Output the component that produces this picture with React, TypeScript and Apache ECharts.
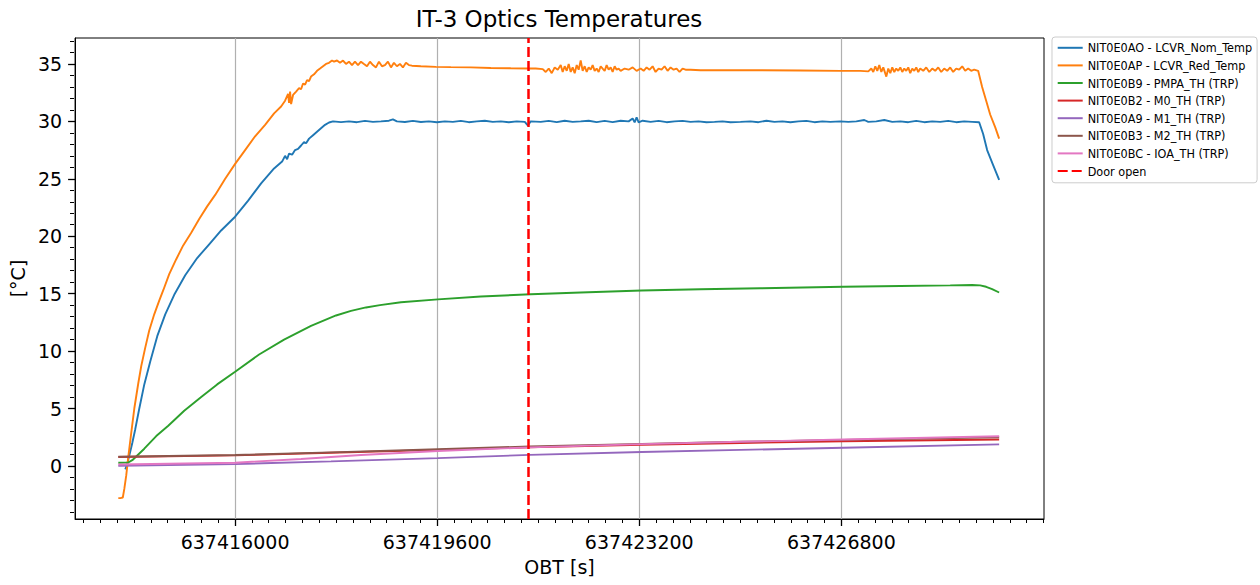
import React, { useEffect, useRef } from "react";
import * as echarts from "echarts";

// ---------- data ----------
const START_OBT = 637413920; // first sample (OBT seconds)
const DOOR_OPEN_OBT = 637421230;

const X_MIN = 637413150;
const X_MAX = 637430410;
const Y_MIN = -4.62;
const Y_MAX = 37.26;

const xMajorTicks = [637416000, 637419600, 637423200, 637426800];
const yMajorTicks = [0, 5, 10, 15, 20, 25, 30, 35];
const X_MINOR_FIRST = 637413300;
const X_MINOR_STEP = 300;
const Y_MINOR_FIRST = -4;
const Y_MINOR_LAST = 37;

const seriesNames = [
  "NIT0E0AO - LCVR_Nom_Temp",
  "NIT0E0AP - LCVR_Red_Temp",
  "NIT0E0B9 - PMPA_TH (TRP)",
  "NIT0E0B2 - M0_TH (TRP)",
  "NIT0E0A9 - M1_TH (TRP)",
  "NIT0E0B3 - M2_TH (TRP)",
  "NIT0E0BC - IOA_TH (TRP)",
  "Door open",
];
const colors = ["#1f77b4", "#ff7f0e", "#2ca02c", "#d62728", "#9467bd", "#8c564b", "#e377c2", "#ff0000"];

// LCVR_Nom_Temp (offset seconds from START_OBT, values °C)
const nomT = [
  125, 160, 196, 249, 302, 374, 463, 569, 694, 836,
  996, 1192, 1405, 1619, 1832, 2081, 2313, 2544, 2775, 2918,
  2971, 3007, 3042, 3096, 3149, 3202, 3256, 3309, 3345, 3398,
  3469, 3540, 3611, 3683, 3754, 3825,
  3967, 4109, 4252, 4394, 4536, 4679, 4821, 4892, 4963, 5106,
  5248, 5390, 5533, 5675, 5817, 5960, 6102, 6244, 6387, 6529,
  6671, 6814, 6956, 7098, 7241, 7294, 7347, 7525, 7667, 7810,
  7952, 8094, 8237, 8379, 8521, 8664, 8806, 8949, 9091, 9162,
  9198, 9233, 9269, 9340, 9482, 9625, 9767, 9909, 10052, 10194,
  10336, 10478, 10621, 10763, 10905, 11083, 11261, 11403, 11546, 11688,
  11830, 11973, 12115, 12257, 12400, 12542, 12684, 12862, 13004, 13147,
  13289, 13360, 13502, 13645, 13787, 13930, 14072, 14214, 14357, 14499,
  14641, 14783, 14926, 15068, 15211, 15335,
  15406, 15477, 15584, 15691,
];
const nomV = [
  -0.3, 0.2, 0.9, 2.0, 3.2, 5.0, 7.1, 9.1, 11.3, 13.2,
  14.9, 16.6, 18.1, 19.3, 20.5, 21.7, 23.1, 24.6, 25.9, 26.5,
  27.0, 26.7, 27.2, 27.1, 27.5, 27.6, 27.9, 28.2, 28.1, 28.5,
  28.8, 29.1, 29.4, 29.7, 29.9, 30.0,
  29.94, 30.0, 29.93, 30.04, 29.96, 30.0, 30.06, 30.18, 30.0, 29.95,
  30.04, 29.95, 30.0, 29.93, 30.0, 29.96, 30.04, 29.93, 30.0, 30.06,
  29.96, 30.0, 29.93, 30.0, 29.96, 29.65, 30.0, 29.96, 30.04, 29.93,
  30.06, 29.96, 30.0, 30.06, 29.93, 30.04, 29.93, 30.06, 30.0, 30.25,
  29.92, 30.35, 29.92, 30.06, 29.96, 30.04, 29.93, 30.0, 30.04, 29.96,
  30.0, 29.93, 29.96, 30.0, 29.93, 29.96, 30.0, 29.93, 30.06, 29.96,
  30.0, 29.93, 30.0, 30.04, 29.93, 30.0, 29.96, 30.0, 29.96, 30.0,
  30.12, 29.96, 30.0, 30.12, 29.96, 30.0, 29.93, 30.04, 29.93, 30.0,
  29.96, 30.04, 29.93, 30.0, 29.96, 29.92,
  28.9, 27.5, 26.2, 24.9,
];

// LCVR_Red_Temp
const redT = [
  0, 36, 80, 107, 142, 178, 231, 285, 356, 409,
  480, 551, 640, 729, 801, 907, 1032, 1156, 1299, 1441,
  1583, 1726, 1904, 2081, 2259, 2437, 2615, 2775, 2900, 2971,
  3024, 3042, 3060, 3078, 3113, 3167, 3220, 3256, 3291, 3327,
  3362, 3398, 3433, 3487, 3540, 3594, 3647, 3700, 3754, 3807,
  3843,
  3896, 3949, 4003, 4056, 4109, 4163, 4216, 4270, 4323, 4376,
  4430, 4483, 4536, 4590, 4643, 4697, 4750, 4803, 4857, 4910,
  4963, 5017, 5070, 5124, 5177, 5230,
  5390, 5657, 5924, 6280, 6636, 6991, 7312, 7436, 7561,
  7614, 7667, 7721, 7774, 7828, 7881,
  7916, 7952, 7988, 8023, 8059, 8094, 8130, 8166, 8201, 8237,
  8272, 8308, 8344, 8379, 8415, 8450, 8486, 8521, 8557, 8593,
  8628, 8664, 8699, 8735, 8771, 8806, 8842, 8877, 8913, 8949,
  9020, 9091, 9162, 9233, 9304,
  9358, 9411, 9464, 9518, 9571, 9625, 9678, 9731, 9785, 9838,
  9892, 9945, 9998, 10052, 10105,
  10194, 10372, 10727, 11439, 12150, 12862, 13218, 13360,
  13414, 13449, 13485, 13520, 13556, 13592, 13627,
  13681,
  13716, 13752, 13787, 13823, 13858, 13894, 13930, 13965, 14001, 14036,
  14072, 14107, 14143, 14179, 14214, 14250, 14285,
  14339, 14392, 14446, 14499, 14552, 14606, 14659, 14712, 14766, 14819,
  14872, 14926, 14979, 15033, 15086, 15139, 15193, 15246,
  15317,
  15388, 15460, 15531, 15620, 15691,
];
const redV = [
  -2.8, -2.8, -2.75, -2.0, -0.8, 0.8, 2.9, 5.0, 7.2, 8.7,
  10.3, 11.8, 13.2, 14.4, 15.3, 16.7, 18.0, 19.2, 20.3, 21.5,
  22.6, 23.6, 25.0, 26.3, 27.5, 28.7, 29.7, 30.7, 31.3, 31.8,
  32.4, 31.6, 32.6, 31.5, 32.3, 32.6, 32.9, 32.8, 33.3, 33.2,
  33.6, 33.5, 33.9, 34.1, 34.4, 34.6, 34.8, 35.0, 35.1, 35.3,
  35.2,
  35.3, 35.1, 35.3, 35.0, 35.2, 34.9, 35.2, 34.9, 35.2, 35.0,
  34.8, 35.2, 34.9, 34.7, 35.2, 34.8, 34.9, 35.2, 34.7, 35.1,
  34.8, 35.0, 34.7, 35.1, 34.9, 34.85,
  34.8, 34.75, 34.72, 34.7, 34.65, 34.62, 34.6, 34.6, 34.55,
  34.3, 34.6, 34.2, 34.7, 34.5, 34.9,
  34.3, 34.8, 34.4, 35.0, 34.3, 34.7, 34.2, 34.9, 34.5, 35.3,
  34.4, 34.8, 34.3, 34.7, 34.5, 34.9, 34.4, 34.6, 34.3, 34.8,
  34.6, 34.4, 34.9, 34.5, 34.7, 34.3, 34.8, 34.5, 34.6, 34.4,
  34.6, 34.5, 34.7, 34.4, 34.6,
  34.4, 34.7, 34.5, 34.8, 34.3, 34.6, 34.5, 34.8, 34.4, 34.7,
  34.5, 34.6, 34.3, 34.6, 34.5,
  34.5, 34.45, 34.45, 34.45, 34.43, 34.4, 34.4, 34.35,
  34.6, 34.3, 34.8, 34.4, 34.9, 34.3, 34.7,
  33.9,
  34.6, 34.2, 34.7, 34.3, 34.6, 34.4, 34.7, 34.3, 34.6, 34.4,
  34.7, 34.2, 34.6, 34.4, 34.7, 34.3, 34.6,
  34.4, 34.7, 34.3, 34.6, 34.4, 34.7, 34.3, 34.6, 34.4, 34.7,
  34.3, 34.6, 34.5, 34.8, 34.4, 34.6, 34.4, 34.5,
  34.4,
  33.0, 31.8, 30.6, 29.5, 28.5,
];

// PMPA_TH
const pmpaT = [
  0, 178, 249, 463, 676, 890, 1174, 1477, 1761, 2081,
  2508, 2953, 3433, 3878, 4145, 4412, 4661, 5035, 5693, 6458,
  7347, 8237, 9322, 10372, 11439, 12916, 13930, 14819, 15211, 15353,
  15460, 15566, 15691,
];
const pmpaV = [
  0.28, 0.3, 0.5, 1.5, 2.6, 3.5, 4.8, 6.0, 7.1, 8.2,
  9.7, 11.0, 12.2, 13.1, 13.5, 13.8, 14.0, 14.25, 14.5, 14.75,
  14.95, 15.1, 15.27, 15.38, 15.47, 15.6, 15.67, 15.72, 15.75, 15.72,
  15.6, 15.4, 15.1,
];

// Mirrors
const slowT = [0, 2081, 3789, 5693, 7329, 9322, 11083, 12916, 15691];
const m0V = [0.78, 0.92, 1.15, 1.4, 1.62, 1.85, 2.0, 2.15, 2.3];
const m1V = [0.02, 0.16, 0.4, 0.68, 0.96, 1.22, 1.4, 1.58, 1.88];
const m2V = [0.8, 0.95, 1.18, 1.45, 1.7, 1.92, 2.1, 2.27, 2.5];
const ioaT = [0, 2081, 3256, 4323, 5693, 7329, 9322, 11083, 12916, 15691];
const ioaV = [0.12, 0.28, 0.6, 0.95, 1.3, 1.62, 1.9, 2.1, 2.3, 2.58];

// ---------- chart ----------
const FONT = "'DejaVu Sans', sans-serif";

function pairs(t: number[], v: number[]) {
  return t.map((o, i) => [START_OBT + o, v[i]]);
}

function buildOption() {
  const xMinor: number[] = [];
  for (let x = X_MINOR_FIRST; x <= X_MAX; x += X_MINOR_STEP) xMinor.push(x);
  const yMinor: number[] = [];
  for (let y = Y_MINOR_FIRST; y <= Y_MINOR_LAST; y += 1) yMinor.push(y);

  const lineSeries = (idx: number, t: number[], v: number[]) => ({
    type: "line",
    name: seriesNames[idx],
    data: pairs(t, v),
    symbol: "none",
    showSymbol: false,
    silent: true,
    z: 3 + idx * 0.01,
    lineStyle: { color: colors[idx], width: 1.9 },
    itemStyle: { color: colors[idx] },
  });

  const doorDash = [10, 4];

  return {
    animation: false,
    backgroundColor: "#ffffff",
    textStyle: { fontFamily: FONT },
    grid: {
      left: 74,
      right: 216,
      top: 38,
      bottom: 66,
      show: true,
      borderColor: "#000",
      borderWidth: 1,
      backgroundColor: "transparent",
    },
    graphic: [
      {
        type: "text",
        x: 559,
        y: 19,
        style: {
          text: "IT-3 Optics Temperatures",
          fontSize: 23,
          fontFamily: FONT,
          fill: "#000",
          textAlign: "center",
          textVerticalAlign: "middle",
        },
      },
    ],
    legend: {
      orient: "vertical",
      left: 1052,
      top: 37,
      itemWidth: 25,
      itemHeight: 12,
      itemGap: 4.6,
      padding: [4.3, 5, 5.3, 4.7],
      backgroundColor: "#fff",
      borderColor: "#cccccc",
      borderWidth: 1,
      borderRadius: 3,
      selectedMode: false,
      data: seriesNames,
      itemStyle: { opacity: 0 },
      lineStyle: { opacity: 1 },
      textStyle: {
        fontSize: 12.5,
        lineHeight: 12,
        color: "#000",
        fontFamily: "'DejaVu Sans Condensed', 'DejaVu Sans', sans-serif",
      },
    },
    xAxis: [
      {
        type: "value",
        min: X_MIN,
        max: X_MAX,
        position: "bottom",
        name: "OBT [s]",
        nameLocation: "middle",
        nameGap: 38,
        nameTextStyle: { fontSize: 19, color: "#000", fontFamily: FONT },
        axisLine: { show: true, onZero: false, lineStyle: { color: "#000", width: 1 } },
        axisTick: { show: true, customValues: xMajorTicks, length: 7, lineStyle: { color: "#000", width: 1.3 } },
        axisLabel: {
          customValues: xMajorTicks,
          formatter: (v: number) => String(v),
          fontSize: 19,
          color: "#000",
          margin: 13,
          fontFamily: FONT,
        },
        splitLine: { show: true, lineStyle: { color: "#b0b0b0", width: 1.2 } },
      },
      {
        type: "value",
        min: X_MIN,
        max: X_MAX,
        position: "top",
        offset: -481,
        axisLine: { show: false, onZero: false },
        axisTick: { show: true, inside: true, customValues: xMinor, length: 4, lineStyle: { color: "#000", width: 1 } },
        axisLabel: { show: false },
        splitLine: { show: false },
      },
    ],
    yAxis: [
      {
        type: "value",
        min: Y_MIN,
        max: Y_MAX,
        position: "left",
        name: "[°C]",
        nameLocation: "middle",
        nameGap: 47,
        nameTextStyle: { fontSize: 19, color: "#000", fontFamily: FONT },
        axisLine: { show: true, onZero: false, lineStyle: { color: "#000", width: 1 } },
        axisTick: { show: true, customValues: yMajorTicks, length: 7, lineStyle: { color: "#000", width: 1.3 } },
        axisLabel: {
          customValues: yMajorTicks,
          formatter: (v: number) => String(v),
          fontSize: 19,
          color: "#000",
          margin: 13,
          fontFamily: FONT,
        },
        splitLine: { show: false },
      },
      {
        type: "value",
        min: Y_MIN,
        max: Y_MAX,
        position: "right",
        offset: -970,
        axisLine: { show: false, onZero: false },
        axisTick: { show: true, inside: true, customValues: yMinor, length: 4, lineStyle: { color: "#000", width: 1 } },
        axisLabel: { show: false },
        splitLine: { show: false },
      },
    ],
    series: [
      lineSeries(0, nomT, nomV),
      lineSeries(1, redT, redV),
      lineSeries(2, pmpaT, pmpaV),
      lineSeries(3, slowT, m0V),
      lineSeries(4, slowT, m1V),
      lineSeries(5, slowT, m2V),
      lineSeries(6, ioaT, ioaV),
      {
        type: "line",
        name: seriesNames[7],
        data: [],
        symbol: "none",
        showSymbol: false,
        silent: true,
        z: 5,
        lineStyle: { color: colors[7], width: 2.5, type: doorDash },
        itemStyle: { color: colors[7] },
        markLine: {
          silent: true,
          symbol: ["none", "none"],
          label: { show: false },
          lineStyle: { color: colors[7], width: 2.5, type: doorDash },
          emphasis: { disabled: true },
          data: [{ xAxis: DOOR_OPEN_OBT }],
        },
      },
    ],
  };
}

export default function App() {
  const ref = useRef<HTMLDivElement>(null);
  useEffect(() => {
    if (!ref.current) return;
    const chart = echarts.init(ref.current, undefined, { renderer: "svg" });
    chart.setOption(buildOption() as any);
    return () => chart.dispose();
  }, []);
  return (
    <div
      ref={ref}
      style={{ position: "absolute", left: 0, top: 0, width: 1260, height: 585, background: "#fff" }}
    />
  );
}
